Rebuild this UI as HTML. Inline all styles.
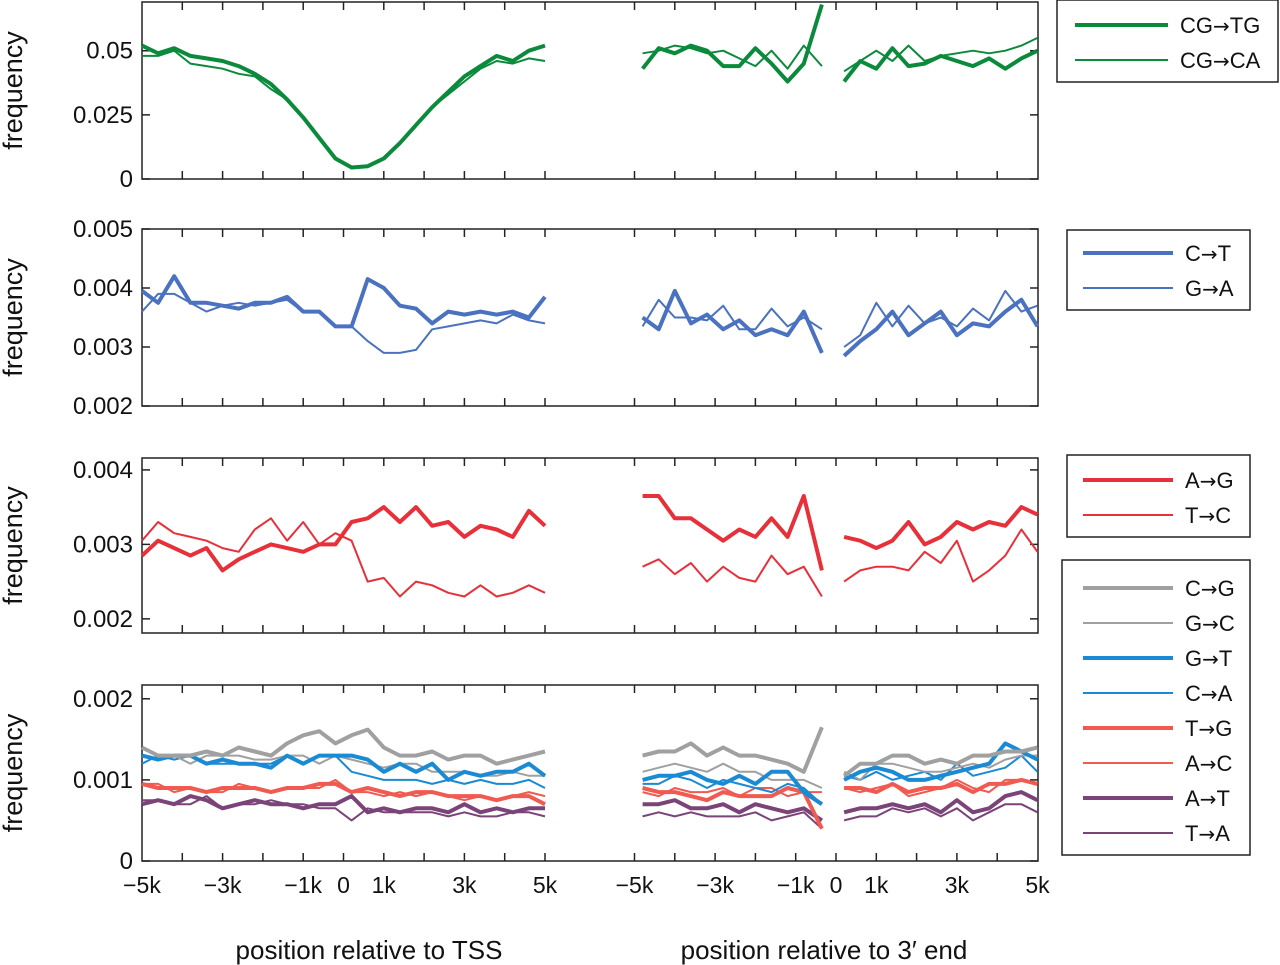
<!DOCTYPE html>
<html><head><meta charset="utf-8"><style>
body{margin:0;background:#fff;}
svg{display:block;font-family:"Liberation Sans",sans-serif;}
.arr{font-family:"DejaVu Sans",sans-serif;}
</style></head><body>
<svg id="chart" width="1280" height="965"></svg>
<script>
// x positions (kb)
const xLeft=[-5,-4.6,-4.2,-3.8,-3.4,-3,-2.6,-2.2,-1.8,-1.4,-1,-0.6,-0.2,0.2,0.6,1,1.4,1.8,2.2,2.6,3,3.4,3.8,4.2,4.6,5];
const xMid=[-4.8,-4.4,-4,-3.6,-3.2,-2.8,-2.4,-2,-1.6,-1.2,-0.8,-0.35];
const xRight=[0.2,0.6,1,1.4,1.8,2.2,2.6,3,3.4,3.8,4.2,4.6,5];
const xTickLabels=["−5k","−3k","−1k","0","1k","3k","5k"];
const xTickVals=[-5,-3,-1,0,1,3,5];
// panel 1 (units of 0.001)
const cgtgL=[52,49,51,48,47,46,44,41,37,31,24,16,8,4.5,5,8,14,21,28,34,40,44,48,46,50,52];
const cgcaL=[48,48,50,45,44,43,41,40,35,31,24,16,8,4.5,5,8,14,21,28,33,38,43,46,45,47,46];
const cgtgM=[43,51,49,52,50,44,44,51,45,38,45,68];
const cgcaM=[49,50,52,51,49,50,47,44,50,43,52,44];
const cgtgR=[38,46,43,51,44,45,48,46,44,47,43,47,50];
const cgcaR=[42,46,50,46,52,46,48,49,50,49,50,52,55];
// panel 2
const ctL=[3.95,3.75,4.2,3.75,3.75,3.7,3.65,3.75,3.75,3.85,3.6,3.6,3.35,3.35,4.15,4.0,3.7,3.65,3.4,3.6,3.55,3.6,3.55,3.6,3.5,3.85];
const gaL=[3.6,3.9,3.9,3.75,3.6,3.7,3.75,3.7,3.75,3.8,3.6,3.6,3.35,3.35,3.1,2.9,2.9,2.95,3.3,3.35,3.4,3.45,3.4,3.55,3.45,3.4];
const ctM=[3.5,3.3,3.95,3.4,3.55,3.3,3.45,3.2,3.3,3.2,3.6,2.9];
const gaM=[3.35,3.8,3.5,3.5,3.45,3.7,3.3,3.3,3.65,3.35,3.5,3.3];
const ctR=[2.85,3.1,3.3,3.6,3.2,3.4,3.6,3.2,3.4,3.35,3.6,3.8,3.35];
const gaR=[3.0,3.2,3.75,3.35,3.7,3.4,3.5,3.35,3.65,3.45,3.95,3.6,3.7];
// panel 3
const agL=[2.85,3.05,2.95,2.85,2.95,2.65,2.8,2.9,3.0,2.95,2.9,3.0,3.0,3.3,3.35,3.5,3.3,3.5,3.25,3.3,3.1,3.25,3.2,3.1,3.45,3.25];
const tcL=[3.05,3.3,3.15,3.1,3.05,2.95,2.9,3.2,3.35,3.05,3.3,3.0,3.15,3.05,2.5,2.55,2.3,2.5,2.45,2.35,2.3,2.45,2.3,2.35,2.45,2.35];
const agM=[3.65,3.65,3.35,3.35,3.2,3.05,3.2,3.1,3.35,3.1,3.65,2.65];
const tcM=[2.7,2.8,2.6,2.75,2.5,2.7,2.55,2.5,2.85,2.6,2.7,2.3];
const agR=[3.1,3.05,2.95,3.05,3.3,3.0,3.1,3.3,3.2,3.3,3.25,3.5,3.4];
const tcR=[2.5,2.65,2.7,2.7,2.65,2.9,2.75,3.05,2.5,2.65,2.85,3.2,2.9];
// panel 4
const cgL=[1.4,1.3,1.3,1.3,1.35,1.3,1.4,1.35,1.3,1.45,1.55,1.6,1.45,1.55,1.62,1.4,1.3,1.3,1.35,1.25,1.3,1.3,1.2,1.25,1.3,1.35];
const gcL=[1.4,1.3,1.3,1.2,1.3,1.3,1.3,1.25,1.25,1.3,1.3,1.2,1.3,1.25,1.2,1.15,1.2,1.2,1.1,1.1,1.1,1.05,1.05,1.1,1.05,1.05];
const gtL=[1.3,1.25,1.3,1.3,1.2,1.25,1.2,1.2,1.15,1.3,1.2,1.3,1.3,1.3,1.25,1.1,1.2,1.1,1.2,1.0,1.1,1.05,1.1,1.1,1.2,1.05];
const caL=[1.2,1.3,1.25,1.3,1.2,1.2,1.2,1.2,1.2,1.3,1.2,1.3,1.3,1.1,1.05,1.0,1.0,1.0,0.95,1.0,0.95,1.0,0.95,0.95,1.0,0.9];
const tgL=[0.95,0.9,0.9,0.9,0.85,0.9,0.9,0.9,0.85,0.9,0.9,0.95,0.95,0.85,0.9,0.85,0.8,0.85,0.85,0.8,0.8,0.8,0.75,0.8,0.8,0.7];
const acL=[0.95,0.95,0.85,0.9,0.85,0.85,0.95,0.9,0.85,0.9,0.9,0.9,1.0,0.85,0.85,0.8,0.85,0.8,0.85,0.8,0.75,0.8,0.75,0.8,0.85,0.8];
const atL=[0.7,0.75,0.7,0.8,0.75,0.65,0.7,0.75,0.7,0.7,0.65,0.7,0.7,0.8,0.6,0.65,0.6,0.65,0.65,0.6,0.7,0.6,0.65,0.6,0.65,0.65];
const taL=[0.75,0.75,0.7,0.7,0.8,0.65,0.7,0.7,0.75,0.7,0.7,0.65,0.65,0.5,0.65,0.6,0.6,0.6,0.6,0.55,0.6,0.55,0.55,0.6,0.6,0.55];
const cgM=[1.3,1.35,1.35,1.45,1.3,1.4,1.3,1.3,1.25,1.2,1.1,1.65];
const gcM=[1.1,1.15,1.2,1.15,1.1,1.2,1.1,1.1,1.0,1.0,1.0,0.9];
const gtM=[1.0,1.05,1.05,1.1,1.0,0.95,1.05,0.95,1.1,1.1,0.85,0.7];
const caM=[0.95,0.95,1.05,1.0,0.9,1.0,0.95,0.9,0.85,0.95,0.9,0.7];
const tgM=[0.9,0.85,0.85,0.8,0.75,0.85,0.8,0.8,0.8,0.9,0.85,0.4];
const acM=[0.85,0.8,0.9,0.85,0.85,0.9,0.8,0.9,0.9,0.8,0.85,0.85];
const atM=[0.7,0.7,0.75,0.65,0.65,0.7,0.6,0.7,0.65,0.6,0.65,0.5];
const taM=[0.55,0.6,0.55,0.6,0.55,0.55,0.55,0.6,0.5,0.55,0.6,0.4];
const cgR=[1.05,1.2,1.2,1.3,1.3,1.2,1.25,1.2,1.3,1.3,1.35,1.35,1.4];
const gcR=[1.1,1.0,1.2,1.2,1.15,1.1,1.1,1.15,1.2,1.15,1.25,1.3,1.3];
const gtR=[1.0,1.1,1.15,1.1,1.0,1.0,1.05,1.1,1.15,1.2,1.45,1.35,1.25];
const caR=[1.05,1.0,1.1,1.0,1.05,1.1,1.0,1.2,1.05,1.1,1.15,1.3,1.1];
const tgR=[0.9,0.9,0.85,0.95,0.85,0.9,0.9,0.95,0.85,0.95,0.95,1.0,0.95];
const acR=[0.9,0.85,0.9,0.95,0.8,0.85,0.9,1.0,0.9,0.85,1.0,1.0,0.95];
const atR=[0.6,0.65,0.65,0.7,0.65,0.7,0.6,0.75,0.6,0.65,0.8,0.85,0.75];
const taR=[0.5,0.55,0.55,0.65,0.6,0.65,0.55,0.65,0.5,0.6,0.7,0.7,0.6];

const NS="http://www.w3.org/2000/svg";
const svg=document.getElementById('chart');
function mk(tag,attrs,parent){const e=document.createElementNS(NS,tag);for(const k in attrs)e.setAttribute(k,attrs[k]);(parent||svg).appendChild(e);return e;}
const K=40.3;
const xL=v=>343.5+v*K;
const xE=v=>836+v*K;
const AX0=142,AX1=1038;
const panels=[
 {top:2,bot:179,y0:0,y1:69,ticks:[0,25,50],lab:["0","0.025","0.05"]},
 {top:229,bot:406,y0:2,y1:5,ticks:[2,3,4,5],lab:["0.002","0.003","0.004","0.005"]},
 {top:458,bot:633,y0:1.81,y1:4.16,ticks:[2,3,4],lab:["0.002","0.003","0.004"]},
 {top:685,bot:861,y0:0,y1:2.17,ticks:[0,1,2],lab:["0","0.001","0.002"]}
];
panels.forEach((p,i)=>{p.y=v=>p.bot-(v-p.y0)/(p.y1-p.y0)*(p.bot-p.top);});
panels.forEach((p,i)=>{
  const g=mk('g',{});
  
  
  const r=mk('rect',{x:AX0,y:p.top,width:AX1-AX0,height:p.bot-p.top,fill:'none',stroke:'#222','stroke-width':1.5},g);
  
  
  for(let k=-5;k<=5;k++){
    [xL(k),xE(k)].forEach(x=>{
      if(x<=AX0+1||x>=AX1-1)return;
      mk('line',{x1:x,x2:x,y1:p.top,y2:p.top+8,stroke:'#222','stroke-width':1.5},g);
      mk('line',{x1:x,x2:x,y1:p.bot,y2:p.bot-8,stroke:'#222','stroke-width':1.5},g);
    });
  }
  p.ticks.forEach((t,j)=>{
    const y=p.y(t);
    mk('line',{x1:AX0,x2:AX0+8,y1:y,y2:y,stroke:'#222','stroke-width':1.5},g);
    mk('line',{x1:AX1,x2:AX1-8,y1:y,y2:y,stroke:'#222','stroke-width':1.5},g);
    const tx=mk('text',{x:AX0-9,y:y+8,'text-anchor':'end','font-size':24,fill:'#111'},g);
    tx.textContent=p.lab[j];
    
    
  });
  const cy=(p.top+p.bot)/2;
  const yt=mk('text',{x:0,y:0,transform:`translate(22,${cy}) rotate(-90)`,'text-anchor':'middle','font-size':27,fill:'#111'},g);
  yt.textContent='frequency';
  
  
});
function series(pi,xs,fx,vals,color,w,name){
  const p=panels[pi];
  const d=vals.map((v,i)=>(i?'L':'M')+fx(xs[i]).toFixed(1)+','+Math.max(p.top,p.y(v)).toFixed(1)).join('');
  const e=mk('path',{d:d,fill:'none',stroke:color,'stroke-width':w,'stroke-linejoin':'round'});
  
  
}
function trio(pi,L,M,R,color,w,name){
  series(pi,xLeft,xL,L,color,w,name+'-tss');
  series(pi,xMid,xE,M,color,w,name+'-3end-upstream');
  series(pi,xRight,xE,R,color,w,name+'-3end-downstream');
}
const GRN='#0b8a3c',BLU='#4a72c0',RED='#e8303a',GRY='#a0a0a0',CY='#1a8ad4',SAL='#f05a50',PUR='#7a4478';
trio(0,cgcaL,cgcaM,cgcaR,GRN,2,'cg-ca-line');
trio(0,cgtgL,cgtgM,cgtgR,GRN,4,'cg-tg-line');
trio(1,gaL,gaM,gaR,BLU,2,'g-a-line');
trio(1,ctL,ctM,ctR,BLU,4,'c-t-line');
trio(2,tcL,tcM,tcR,RED,2,'t-c-line');
trio(2,agL,agM,agR,RED,4,'a-g-line');
trio(3,taL,taM,taR,PUR,2,'t-a-line');
trio(3,acL,acM,acR,SAL,2,'a-c-line');
trio(3,caL,caM,caR,CY,2,'c-a-line');
trio(3,gcL,gcM,gcR,GRY,2,'g-c-line');
trio(3,atL,atM,atR,PUR,4,'a-t-line');
trio(3,tgL,tgM,tgR,SAL,4,'t-g-line');
trio(3,gtL,gtM,gtR,CY,4,'g-t-line');
trio(3,cgL,cgM,cgR,GRY,4,'c-g-line');
xTickVals.forEach((v,i)=>{
  [xL(v),xE(v)].forEach(x=>{
    const t=mk('text',{x:x,y:893,'text-anchor':'middle','font-size':23,fill:'#111'});
    t.textContent=xTickLabels[i];
    
    
  });
});
[[369,'position relative to TSS'],[824,'position relative to 3′ end']].forEach(a=>{
  const t=mk('text',{x:a[0],y:959,'text-anchor':'middle','font-size':26,fill:'#111'});
  t.textContent=a[1];
  
  
});
const legends=[
 {x:1057,y:0,w:221,h:82,lx0:1075,lx1:1168,tx:1180,items:[['CG','TG',GRN,4],['CG','CA',GRN,2]],y0:25},
 {x:1067,y:230,w:183,h:80,lx0:1083,lx1:1173,tx:1185,items:[['C','T',BLU,4],['G','A',BLU,2]],y0:253},
 {x:1067,y:455,w:183,h:82,lx0:1083,lx1:1173,tx:1185,items:[['A','G',RED,4],['T','C',RED,2]],y0:480},
 {x:1062,y:560,w:188,h:295,lx0:1083,lx1:1173,tx:1185,items:[['C','G',GRY,4],['G','C',GRY,2],['G','T',CY,4],['C','A',CY,2],['T','G',SAL,4],['A','C',SAL,2],['A','T',PUR,4],['T','A',PUR,2]],y0:588}
];
legends.forEach((L,i)=>{
  const g=mk('g',{});
  
  
  mk('rect',{x:L.x,y:L.y,width:L.w,height:L.h,fill:'#fff',stroke:'#222','stroke-width':1.5},g);
  L.items.forEach((it,j)=>{
    const y=L.y0+j*35;
    const en=mk('g',{},g);
    
    
    mk('line',{x1:L.lx0,x2:L.lx1,y1:y,y2:y,stroke:it[2],'stroke-width':it[3]},en);
    const t=mk('text',{x:L.tx,y:y+8,'font-size':22,fill:'#111'},en);
    const a=document.createElementNS(NS,'tspan');a.textContent=it[0];t.appendChild(a);
    const b=document.createElementNS(NS,'tspan');b.setAttribute('class','arr');b.setAttribute('font-size','20');b.textContent='→';t.appendChild(b);
    const c=document.createElementNS(NS,'tspan');c.textContent=it[1];t.appendChild(c);
  });
});
</script>
</body></html>
